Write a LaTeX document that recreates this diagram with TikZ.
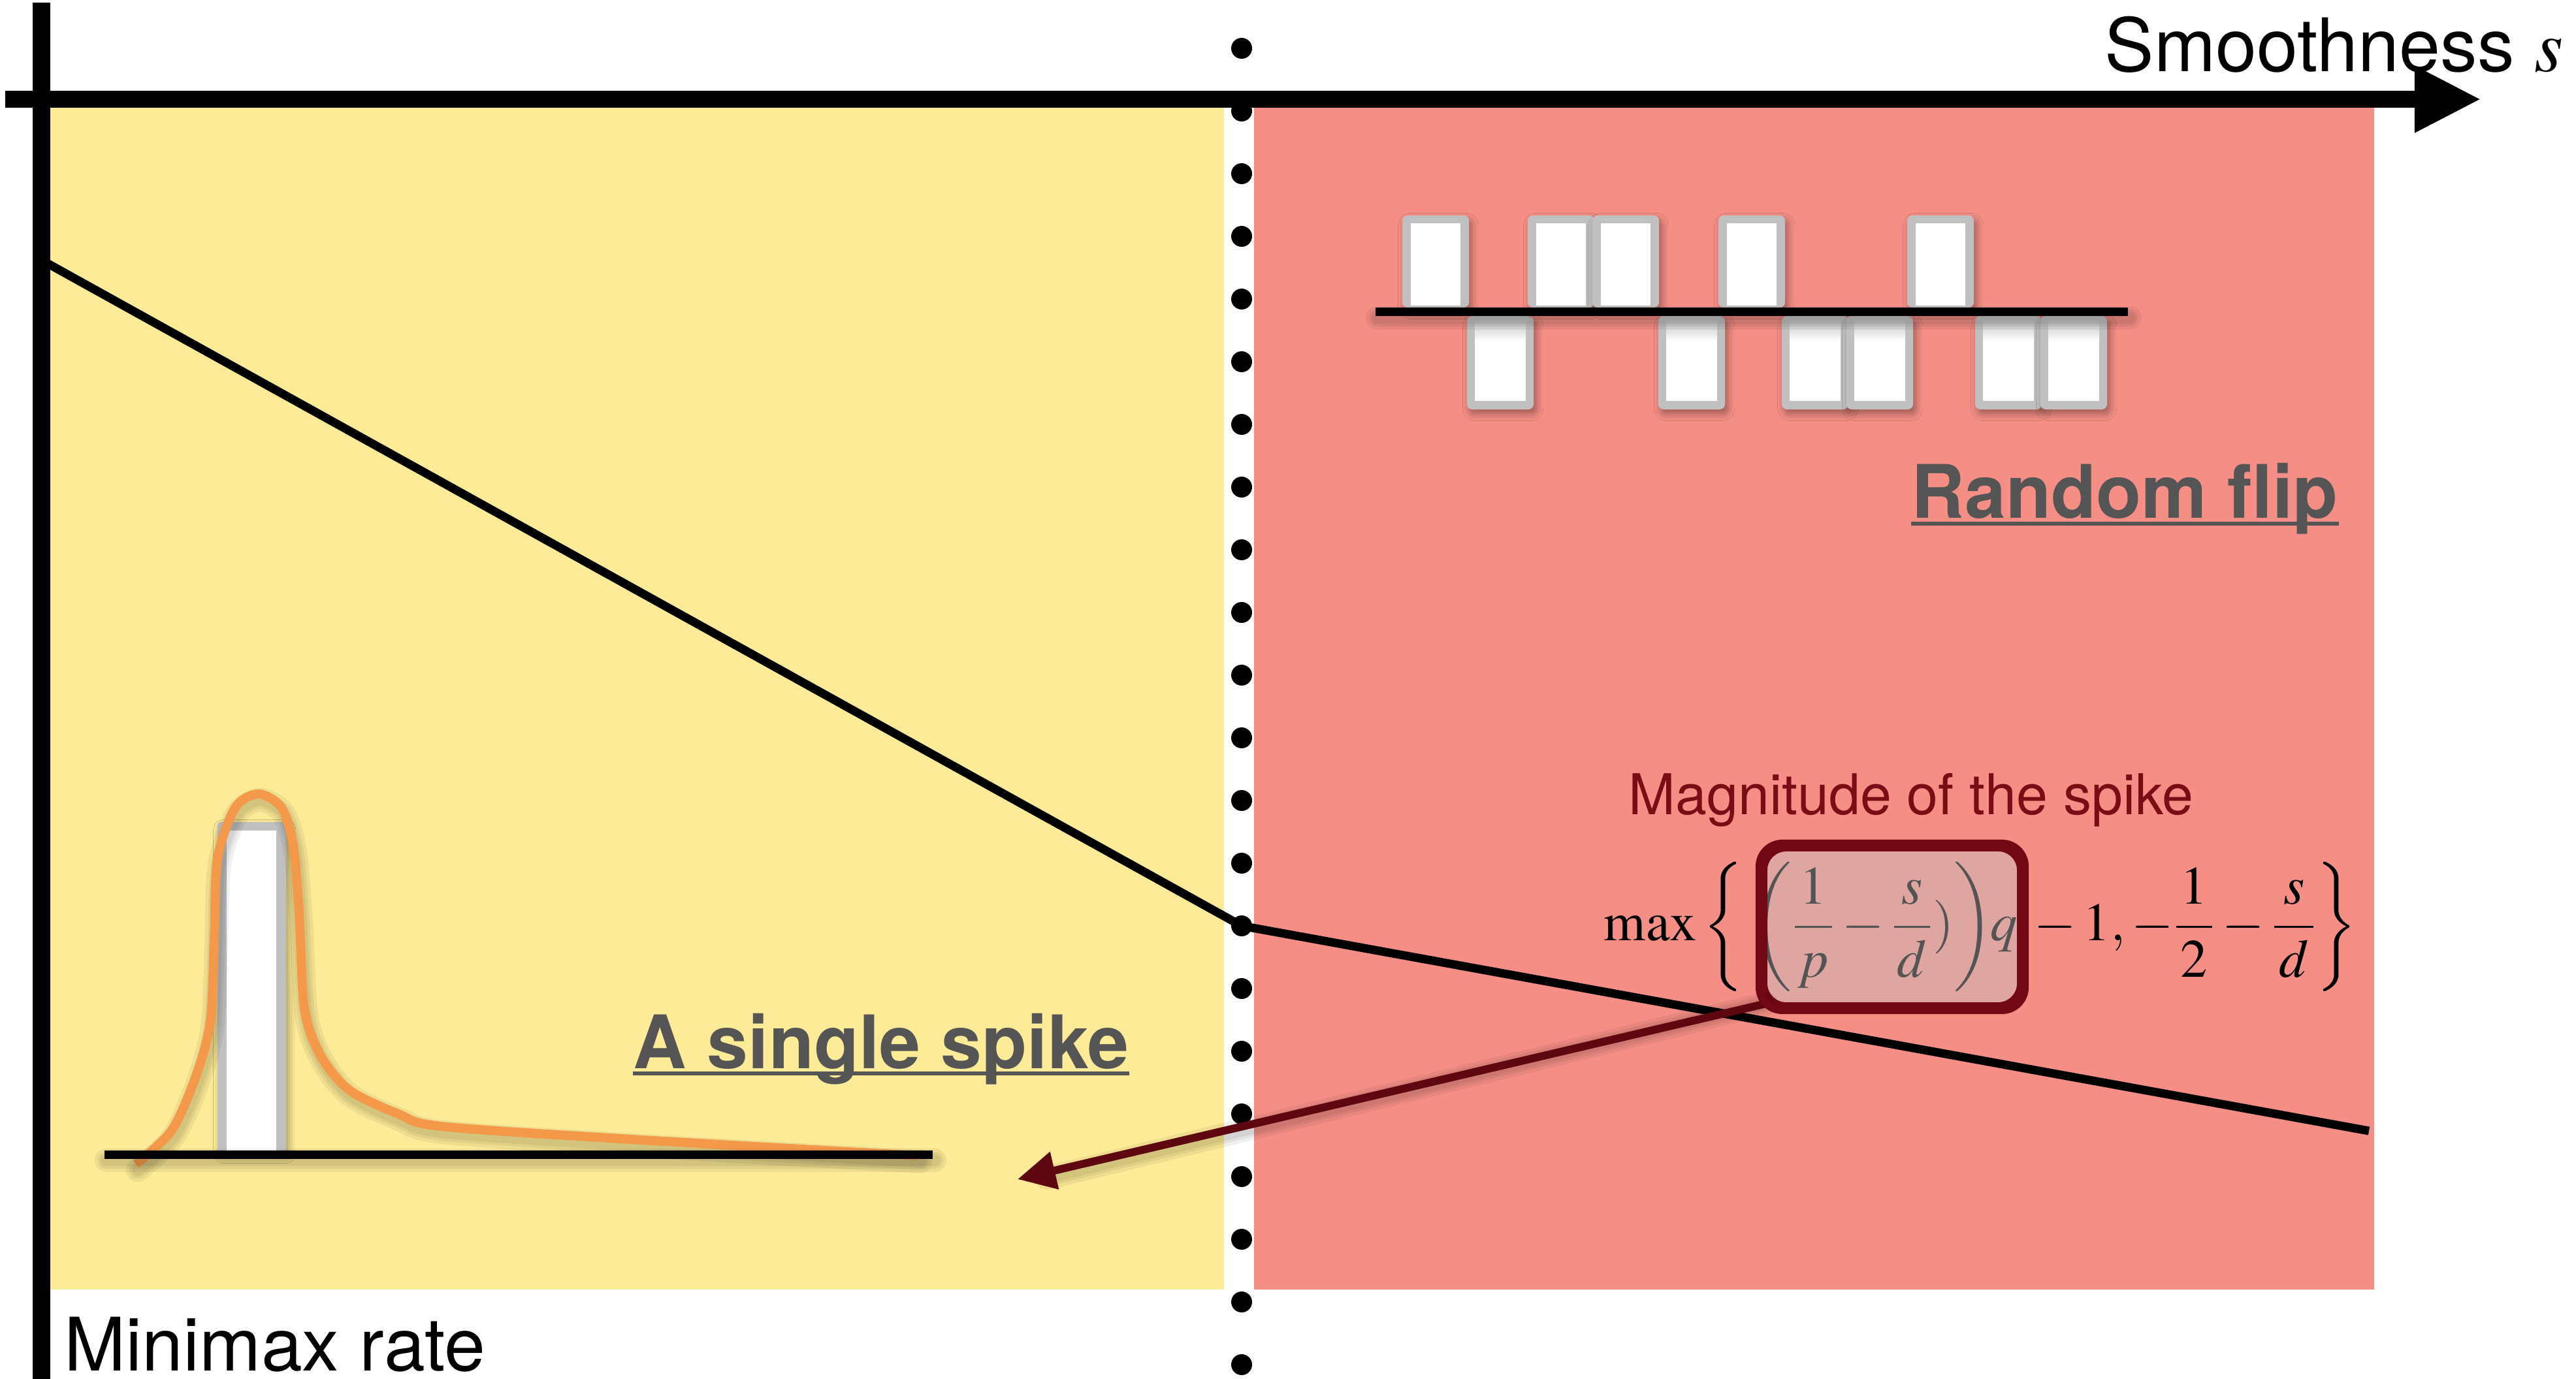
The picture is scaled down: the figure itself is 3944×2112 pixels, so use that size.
\documentclass[tikz,border=0pt]{standalone}
\usepackage{mathptmx}
\usepackage[no-math]{fontspec}
\setmainfont{TeX Gyre Heros}
\usetikzlibrary{arrows.meta,shadows.blur,calc}

\definecolor{lowyellow}{RGB}{253,235,151}
\definecolor{highpink}{RGB}{245,143,134}
\definecolor{bargray}{RGB}{192,192,192}
\definecolor{titlegray}{RGB}{85,85,85}
\definecolor{spikered}{RGB}{122,12,22}
\definecolor{boxred}{RGB}{114,8,19}
\definecolor{arrowred}{RGB}{94,7,16}
\definecolor{bumporange}{RGB}{244,153,74}
\definecolor{veilgray}{RGB}{196,196,196}

% soft shadow under a stroked path
\newcommand{\softstroke}[1]{%
  \foreach \w in {36,26,18}{%
    \draw[black,opacity=0.06,line width=\w*0.01cm,line cap=round,line join=round,shift={(3,9)}] #1;}}

% one bar of the random-flip pattern: #1 = left edge, #2 = up or down
\newcommand{\flipbar}[2]{%
  \ifx u#2
    \fill[barframe] (#1,330) rectangle ++(102,141);
    \fill[white] (#1+13,342) rectangle ++(76,126);
  \else
    \fill[barframe] (#1,484) rectangle ++(102,143);
    \fill[white] (#1+12,488) rectangle ++(78,126);
    \shade[top color=black!25,bottom color=white] (#1+12,488) rectangle ++(78,34);
  \fi}

% fractions with a slightly widened bar
\newcommand{\wfrac}[2]{\frac{\mkern1.5mu#1\mkern1.5mu}{\mkern1.5mu#2\mkern1.5mu}}
\newcommand{\nfrac}[2]{\frac{\mkern1mu#1\mkern1mu}{\mkern1mu#2\mkern1mu}}

\begin{document}
\begin{tikzpicture}[x=0.01cm,y=-0.01cm,
  axisline/.style={line width=0.265cm},
  rateline/.style={line width=0.13cm},
  baseline/.style={line width=0.13cm},
  barframe/.style={fill=bargray,rounded corners=0.08cm,
    blur shadow={shadow xshift=1.2pt,shadow yshift=-2pt,shadow blur radius=3pt,shadow opacity=35}},
  lbl/.style={inner sep=0,font=\fontsize{32.15}{38}\selectfont},
  title/.style={inner sep=0,text=titlegray,font=\fontsize{32.15}{38}\selectfont\bfseries},
  underl/.style={titlegray,line width=0.06cm},
  spikearrow/.style={arrowred,line width=0.12cm,-{Triangle[length=0.58cm,width=0.56cm]}},
  veil/.style={draw=boxred,line width=0.12cm,fill=veilgray,fill opacity=0.43,
    rounded corners=0.35cm,minimum width=3.94cm,minimum height=2.43cm,inner sep=0},
]
\useasboundingbox (0,0) rectangle (3944,2112);
\fill[white] (0,0) rectangle (3944,2112);

% the two regimes
\fill[lowyellow] (77,165) rectangle (1874,1975);
\fill[highpink] (1920,165) rectangle (3635,1975);

% dotted boundary between the regimes
\foreach \k in {0,...,21}
  \fill (1901,74+96*\k) circle (0.16cm);

% minimax rate as a function of s
\draw[rateline] (63,398) -- (1901,1418) -- (3627,1732);

% axes
\draw[axisline,-{Triangle[length=1.02cm,width=0.95cm]}] (8,152) -- (3799,152);
\draw[axisline] (63.5,4) -- (63.5,2125);

\node[lbl,anchor=base west] (xlabel) at (3222,109) {Smoothness $s$};
\node[lbl,anchor=base west] (ylabel) at (98,2099) {Minimax rate};

% random flips
\flipbar{2147}{u}
\flipbar{2246}{d}
\flipbar{2339}{u}
\flipbar{2438}{u}
\flipbar{2539}{d}
\flipbar{2631}{u}
\flipbar{2728}{d}
\flipbar{2827}{d}
\flipbar{2920}{u}
\flipbar{3024}{d}
\flipbar{3124}{d}
\softstroke{(2106,477.5) -- (3258,477.5)}
\draw[baseline,line cap=butt] (2106,477.5) -- (3258,477.5);

\node[title,anchor=base west] (flip) at (2926,793) {Random flip};
\draw[underl] ($(flip.base west)+(0,9)$) -- ($(flip.base east)+(0,9)$);

% a single spike
\fill[barframe,rounded corners=0.04cm] (333,1259) rectangle (438,1764);
\fill[white] (347,1272) rectangle (423,1762);
\softstroke{plot[smooth] coordinates {(208,1783) (263,1731) (300,1648) (322,1565) (328,1440) (333,1316) (360,1237) (396,1216) (431,1237) (449,1295) (458,1399) (466,1544) (490,1615) (534,1669) (610,1706) (675,1725) (967,1745) (1406,1770)}}
\draw[bumporange,line width=0.14cm,line join=round]
  plot[smooth] coordinates {(208,1783) (263,1731) (300,1648) (322,1565) (328,1440) (333,1316) (360,1237) (396,1216) (431,1237) (449,1295) (458,1399) (466,1544) (490,1615) (534,1669) (610,1706) (675,1725) (967,1745) (1406,1770)};
\softstroke{(160,1768) -- (1428,1768)}
\draw[baseline] (160,1768) -- (1428,1768);

\node[title,anchor=base west] (single) at (969,1636) {A single spike};
\draw[underl] ($(single.base west)+(0,8)$) -- ($(single.base east)+(0,8)$);

% magnitude of the spike
\node[inner sep=0,anchor=base west,text=spikered,font=\fontsize{24.5}{29}\selectfont] (maglabel) at (2493,1247) {Magnitude of the spike};
\node[inner sep=0,anchor=base west,font=\fontsize{23.5}{28}\selectfont] (formula) at (2455,1440)
  {$\displaystyle\max\left\{\mkern3mu\left(\nfrac{1}{p}-\nfrac{s}{d})\right)\mkern-3mu q\mkern3mu-1,-\wfrac{1}{2}-\wfrac{s}{d}\right\}$};
\node[veil] (hl) at (2897,1419.5) {};

\coordinate (spiketarget) at (1558,1806);
\softstroke{($(hl.south west)+(10,-10)$) -- (1600,1795)}
\draw[spikearrow] ($(hl.south west)+(10,-10)$) -- (spiketarget);
\draw[boxred,line width=0.12cm,rounded corners=0.35cm] (hl.south west) rectangle (hl.north east);
\end{tikzpicture}
\end{document}
